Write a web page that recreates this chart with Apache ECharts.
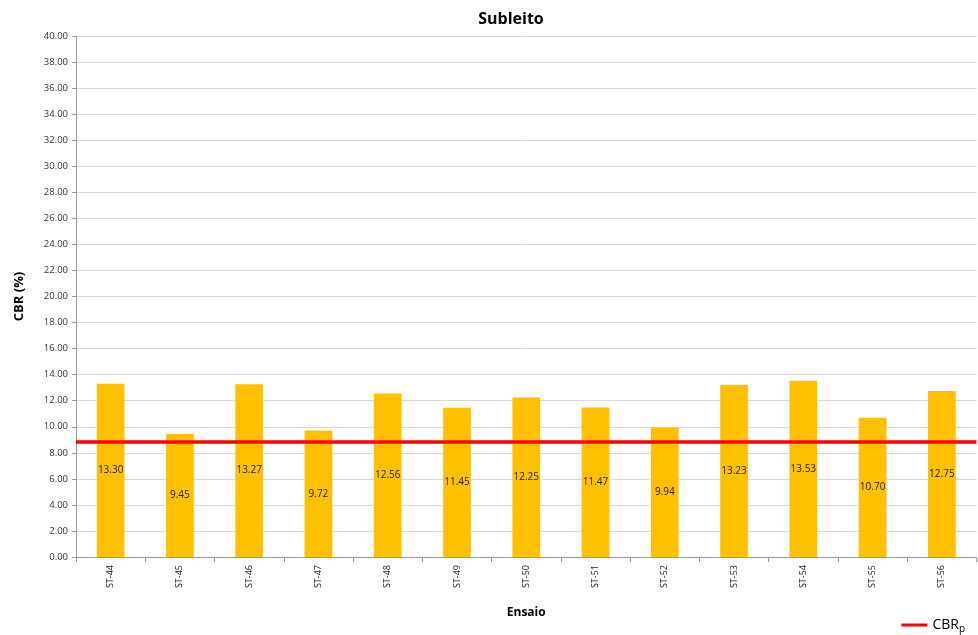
<!DOCTYPE html>
<html><head><meta charset="utf-8">
<script src="https://cdn.jsdelivr.net/npm/echarts@6/dist/echarts.min.js"></script>
<style>html,body{margin:0;padding:0;background:#fff}#c{width:978px;height:635px}</style>
</head><body><div id="c"></div>
<script>
const categories = ['ST-44','ST-45','ST-46','ST-47','ST-48','ST-49','ST-50','ST-51','ST-52','ST-53','ST-54','ST-55','ST-56'];
const cbrValues = [13.30,9.45,13.27,9.72,12.56,11.45,12.25,11.47,9.94,13.23,13.53,10.70,12.75];
const cbrP = 8.88;
const yTicks = {min:0, max:40, interval:2};

const chart = echarts.init(document.getElementById('c'), null, {renderer:'canvas'});
chart.setOption({
  animation:false,
  backgroundColor:'#fff',
  title:{text:'Subleito', left:506, top:6, textAlign:'center',
    textStyle:{fontFamily:'Open Sans', fontWeight:'bold', fontSize:16, color:'#000'}},
  grid:{left:76, right:1.5, top:36, bottom:78, containLabel:false},
  legend:{right:8, bottom:-4, itemWidth:26, itemHeight:3, itemGap:12,
    data:[{name:'CBRp', icon:'rect'}],
    formatter:function(){return '{a|CBR}{b|p}';},
    textStyle:{rich:{a:{fontFamily:'Open Sans',fontSize:14,color:'#000'},b:{fontFamily:'Open Sans',fontSize:10,color:'#000',verticalAlign:'bottom',padding:[8,0,0,0]}}}},
  xAxis:{type:'category', data:categories, name:'Ensaio', nameLocation:'middle', nameGap:50,
    nameTextStyle:{fontFamily:'Open Sans', fontWeight:'bold', fontSize:12, color:'#000'},
    axisLine:{lineStyle:{color:'#999'}}, axisTick:{show:true, length:5, lineStyle:{color:'#999'}},
    axisLabel:{rotate:90, fontFamily:'Open Sans', fontSize:9, color:'#222', margin:8},
    splitLine:{show:false}},
  yAxis:{type:'value', min:yTicks.min, max:yTicks.max, interval:yTicks.interval, name:'CBR (%)', nameLocation:'middle', nameGap:50,
    nameTextStyle:{fontFamily:'Open Sans', fontWeight:'bold', fontSize:13, color:'#000'},
    axisLine:{show:true, lineStyle:{color:'#999'}}, axisTick:{show:true, length:4, lineStyle:{color:'#999'}},
    axisLabel:{fontFamily:'Open Sans', fontSize:9.5, color:'#333', margin:8, formatter:function(v){return v.toFixed(2);}},
    splitLine:{lineStyle:{color:'#d9d9d9', width:1}}},
  series:[
    {name:'CBR', type:'bar', data:cbrValues, barWidth:'40%', itemStyle:{color:'#ffc000'},
      label:{show:true, position:'inside', formatter:function(p){return p.value.toFixed(2);},
        fontFamily:'Open Sans', fontSize:10, color:'#222'}},
    {name:'CBRp', type:'line', data:[], itemStyle:{color:'#ff0000'}, lineStyle:{color:'#ff0000', width:3},
      markLine:{symbol:'none', silent:true, label:{show:false},
        lineStyle:{color:'#ff0000', width:3.5, type:'solid'}, data:[{yAxis:cbrP}]}, z:5}
  ]
});
</script></body></html>
